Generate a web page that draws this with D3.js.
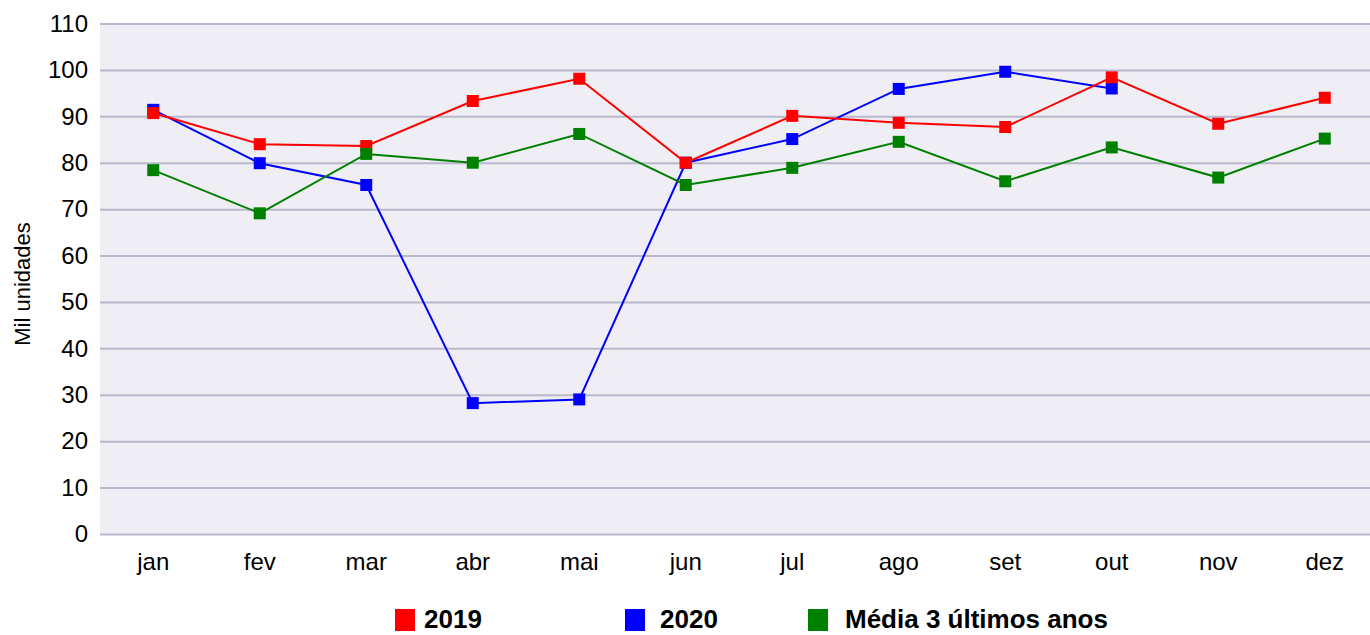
<!DOCTYPE html>
<html>
<head>
<meta charset="utf-8">
<script src="https://cdn.jsdelivr.net/npm/d3@7"></script>
<style>
  body { margin: 0; background: #fff; }
  svg { display: block; font-family: "Liberation Sans", Arial, sans-serif; }
</style>
</head>
<body>
<svg id="chart" width="1370" height="635"></svg>
<script>
// data
const months = ['jan','fev','mar','abr','mai','jun','jul','ago','set','out','nov','dez'];
const vals_2019 = [90.7, 84.0, 83.6, 93.3, 98.1, 80.0, 90.1, 88.6, 87.7, 98.4, 88.4, 94.0];
const vals_2020 = [91.4, 79.9, 75.2, 28.2, 29.0, 80.0, 85.1, 95.9, 99.6, 96.0, null, null];
const vals_media = [78.4, 69.1, 81.9, 80.0, 86.2, 75.2, 78.9, 84.5, 76.0, 83.3, 76.8, 85.2];
const y_ticks = [0,10,20,30,40,50,60,70,80,90,100,110];

const series = [
    {name: '2020', color: '#0000ff', values: vals_2020},
    {name: '2019', color: '#ff0000', values: vals_2019},
    {name: 'Média 3 últimos anos', color: '#008000', values: vals_media}
];
const legend_order = ['2019','2020','Média 3 últimos anos'];

const margin = {left: 100, right: -8, top: 23.5, bottom: 101};
const width = 1370, height = 635;

const svg = d3.select('#chart');

const x_scale = d3.scaleBand()
    .domain(months)
    .range([margin.left, width - margin.right]);

const y_scale = d3.scaleLinear()
    .domain([0, 110])
    .range([height - margin.bottom, margin.top]);

// plot background
svg.append('rect')
    .attr('x', margin.left)
    .attr('y', margin.top)
    .attr('width', width - margin.right - margin.left)
    .attr('height', y_scale(0) - margin.top)
    .attr('fill', '#efeef4');

// grid + y axis labels
svg.append('g')
    .attr('transform', 'translate(' + margin.left + ',0)')
    .call(d3.axisLeft(y_scale).tickValues(y_ticks).tickSize(-(width - margin.right - margin.left)).tickPadding(12))
    .call(g => g.select('.domain').remove())
    .call(g => g.selectAll('.tick line').attr('stroke', '#b9b8cc').attr('stroke-width', 2))
    .call(g => g.selectAll('.tick text')
        .attr('font-size', '24px')
        .attr('fill', '#000')
        .attr('font-family', '"Liberation Sans", Arial, sans-serif'));

// x axis labels
svg.append('g')
    .attr('transform', 'translate(0,' + y_scale(0) + ')')
    .call(d3.axisBottom(x_scale).tickSize(0).tickPadding(19))
    .call(g => g.select('.domain').remove())
    .call(g => g.selectAll('.tick text')
        .attr('font-size', '24px')
        .attr('fill', '#000')
        .attr('font-family', '"Liberation Sans", Arial, sans-serif'));

// y title
svg.append('text')
    .attr('transform', 'translate(30,284) rotate(-90)')
    .attr('text-anchor', 'middle')
    .attr('font-size', '22px')
    .text('Mil unidades');

const line = d3.line()
    .defined(d => d != null)
    .x((d, i) => x_scale(months[i]) + x_scale.bandwidth() / 2)
    .y(d => y_scale(d));

const msize = 12;

series.forEach(function(s){
    const grp = svg.append('g');
    grp.append('path')
        .datum(s.values)
        .attr('d', line)
        .attr('fill', 'none')
        .attr('stroke', s.color)
        .attr('stroke-width', 2);
    grp.selectAll('rect')
        .data(s.values.map((v, i) => ({v: v, m: months[i]})).filter(d => d.v != null))
        .enter()
    .append('rect')
        .attr('x', d => x_scale(d.m) + x_scale.bandwidth() / 2 - msize / 2)
        .attr('y', d => y_scale(d.v) - msize / 2)
        .attr('width', msize)
        .attr('height', msize)
        .attr('fill', s.color);
});

// legend
const legend_x = [395, 625, 808];
const legend_tx = [424, 660, 845];
legend_order.forEach(function(name, i){
    const s = series.find(d => d.name === name);
    svg.append('rect')
        .attr('x', legend_x[i])
        .attr('y', 609)
        .attr('width', 20)
        .attr('height', 22)
        .attr('fill', s.color);
    svg.append('text')
        .attr('x', legend_tx[i])
        .attr('y', 628)
        .attr('font-size', '26px')
        .attr('font-weight', 'bold')
        .text(name);
});
</script>
</body>
</html>
